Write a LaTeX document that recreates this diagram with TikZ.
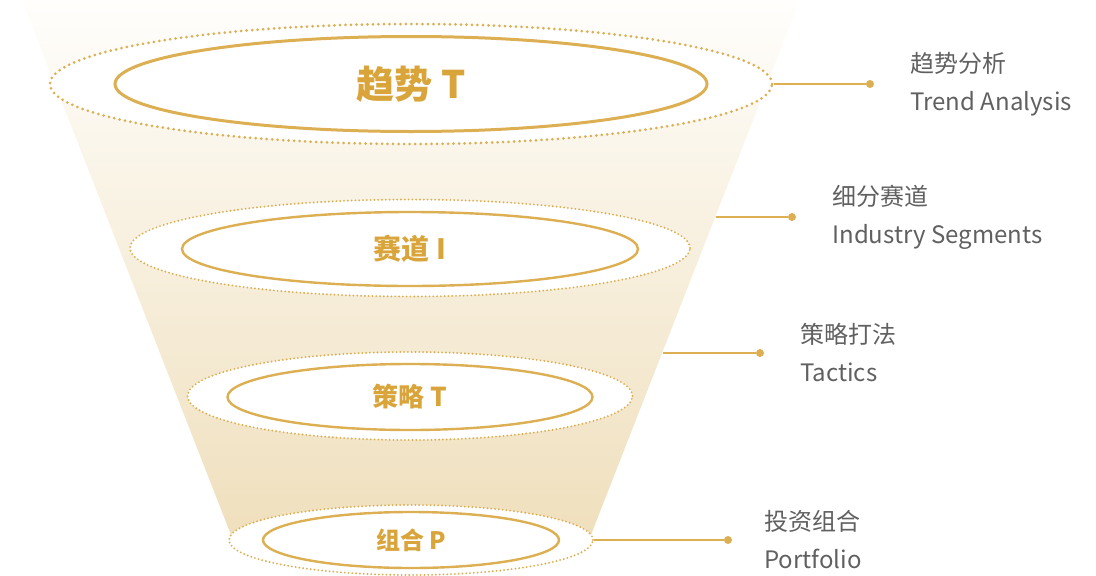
\documentclass[tikz,border=0pt]{standalone}
\usepackage{fontspec}
\setmainfont{Noto Sans CJK SC}
\usetikzlibrary{shapes.geometric,positioning}
\definecolor{gold}{HTML}{DCAF52}
\definecolor{goldtext}{HTML}{D9A43A}
\definecolor{funtop}{HTML}{FFFEFC}
\definecolor{funbot}{HTML}{EFDFBC}
\definecolor{lblgray}{HTML}{606060}
\tikzset{
  ring/.style={ellipse,draw=gold,fill=white,line width=2.1pt,dash pattern=on 0pt off 3.8pt,line cap=round,inner sep=0pt},
  core/.style={ellipse,draw=gold,line width=2.4pt,inner sep=0pt,text=goldtext},
  golddot/.style={circle,fill=gold,inner sep=0pt,minimum size=8pt},
  goldline/.style={draw=gold,line width=1.8pt},
  lbl/.style={align=left,inner sep=0pt,text=lblgray,font=\fontsize{24pt}{38pt}\selectfont}
}
\begin{document}
\begin{tikzpicture}[x=1pt,y=-1pt]
\useasboundingbox (0,0) rectangle (1096,576);
\shade[top color=funtop,bottom color=funbot] (22,0) -- (800,0) -- (589,540) -- (233,540) -- cycle;

\node[ring,line width=3pt,dash pattern=on 0pt off 5.5pt,minimum width=722pt,minimum height=120pt] (trendring) at (411,84) {};
\node[core,line width=3pt,minimum width=592pt,minimum height=95pt,font=\fontsize{38pt}{38pt}\selectfont\bfseries] (trend) at (411,84) {趋势 T};
\node[golddot] (trenddot) at (870,84) {};
\draw[goldline] (trendring.east) -- (trenddot);
\node[lbl,right=36pt of trenddot] (trendlbl) {趋势分析\\Trend Analysis};

\node[ring,minimum width=560pt,minimum height=97pt] (segring) at (410,248) {};
\node[core,minimum width=456pt,minimum height=74pt,font=\fontsize{28pt}{28pt}\selectfont\bfseries] (seg) at (410,249) {赛道 I};
\coordinate (segedge) at (716,217);
\node[golddot] (segdot) at (792,217) {};
\draw[goldline] (segedge) -- (segdot);
\node[lbl,right=36pt of segdot] (seglbl) {细分赛道\\Industry Segments};

\node[ring,minimum width=445pt,minimum height=88pt] (tacring) at (410,396) {};
\node[core,minimum width=365pt,minimum height=66pt,font=\fontsize{26pt}{26pt}\selectfont\bfseries] (tac) at (410,397) {策略 T};
\coordinate (tacedge) at (663,353);
\node[golddot] (tacdot) at (760,353) {};
\draw[goldline] (tacedge) -- (tacdot);
\node[lbl,right=36pt of tacdot] (taclbl) {策略打法\\Tactics};

\node[ring,minimum width=364pt,minimum height=70pt] (portring) at (411,540) {};
\node[core,minimum width=296pt,minimum height=56pt,font=\fontsize{24pt}{24pt}\selectfont\bfseries] (port) at (411,540) {组合 P};
\node[golddot] (portdot) at (728,540) {};
\draw[goldline] (portring.east) -- (portdot);
\node[lbl,right=32pt of portdot] (portlbl) {投资组合\\Portfolio};
\end{tikzpicture}
\end{document}
